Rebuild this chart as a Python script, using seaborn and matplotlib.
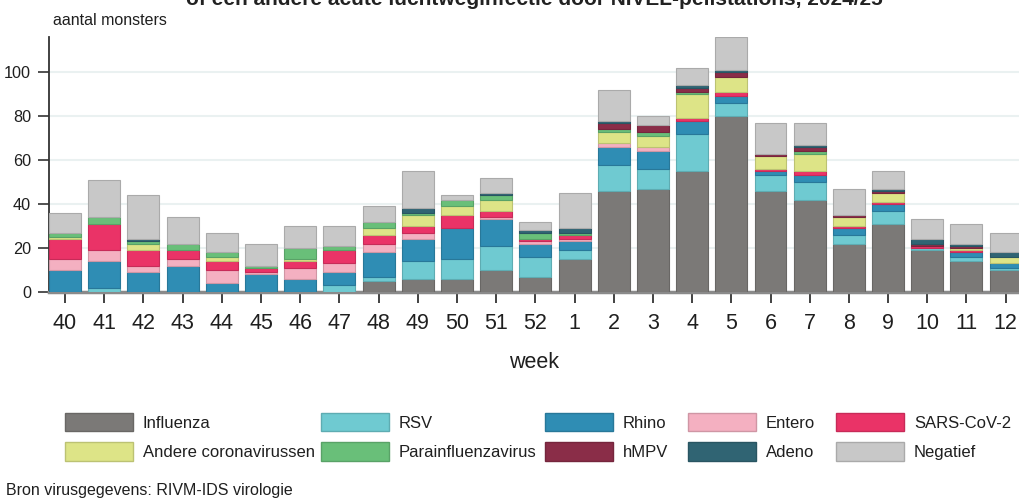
import numpy as np
import pandas as pd
import matplotlib
matplotlib.use("Agg")
import matplotlib.pyplot as plt
import matplotlib.colors as mcolors
from matplotlib.patches import Patch
import seaborn as sns

# ---------------- data ----------------
weeks = ["40", "41", "42", "43", "44", "45", "46", "47", "48", "49", "50", "51", "52",
         "1", "2", "3", "4", "5", "6", "7", "8", "9", "10", "11", "12"]

influenza = [0, 0, 0, 0, 0, 0, 0, 0, 5, 6, 6, 10, 7, 15, 46, 47, 55, 80, 46, 42, 22, 31, 19, 14, 10]
rsv       = [0, 2, 0, 0, 0, 0, 0, 3, 2, 8, 9, 11, 9, 4, 12, 9, 17, 6, 7, 8, 4, 6, 1, 2, 1]
rhino     = [10, 12, 9, 12, 4, 8, 6, 6, 11, 10, 14, 12, 6, 4, 8, 8, 6, 3, 2, 3, 3, 3, 0, 2, 2]
entero    = [5, 5, 3, 3, 6, 1, 5, 4, 4, 3, 0, 1, 1, 1, 2, 2, 0, 0, 0, 0, 0, 0, 0, 0, 0]
sars      = [9, 12, 7, 4, 4, 2, 3, 6, 4, 3, 6, 3, 1, 2, 0, 0, 1, 2, 1, 2, 1, 1, 1, 1, 0]
andere    = [1, 0, 3, 0, 2, 0, 1, 0, 3, 5, 4, 5, 0, 0, 5, 5, 11, 7, 6, 8, 4, 4, 0, 1, 3]
para      = [2, 3, 1, 3, 2, 1, 5, 2, 3, 1, 3, 2, 3, 1, 1, 2, 1, 0, 0, 1, 0, 0, 0, 0, 0]
hmpv      = [0, 0, 0, 0, 0, 0, 0, 0, 0, 0, 0, 0, 0, 0, 3, 3, 2, 2, 1, 2, 1, 1, 1, 1, 0]
adeno     = [0, 0, 1, 0, 0, 0, 0, 0, 0, 2, 0, 1, 1, 2, 1, 0, 1, 1, 0, 1, 0, 1, 2, 1, 2]
negatief  = [9, 17, 20, 12, 9, 10, 10, 9, 7, 17, 2, 7, 4, 16, 14, 4, 8, 15, 14, 10, 12, 8, 9, 9, 9]

series_names = ["Influenza", "RSV", "Rhino", "Entero", "SARS-CoV-2",
                "Andere coronavirussen", "Parainfluenzavirus", "hMPV", "Adeno", "Negatief"]
series_values = [influenza, rsv, rhino, entero, sars, andere, para, hmpv, adeno, negatief]
series_colors = ["#7b7977", "#6fcad1", "#2f8db4", "#f4b0c1", "#ea3367",
                 "#dde487", "#69bf79", "#8a2d48", "#306473", "#c8c8c8"]

title_text = "of een andere acute luchtweginfectie door NIVEL-peilstations, 2024/25"
ylabel_text = "aantal monsters"
xlabel_text = "week"
source_text = "Bron virusgegevens: RIVM-IDS virologie"


def darker(c, f=0.85):
    r, g, b = mcolors.to_rgb(c)
    return (r * f, g * f, b * f)


# ---------------- figure ----------------
sns.set_theme(style="white")
plt.rcParams["font.family"] = ["Liberation Sans", "DejaVu Sans"]

W, H = 1019, 500
fig = plt.figure(figsize=(W / 100, H / 100), dpi=100)
ax = fig.add_axes([49 / W, 1 - 292 / H, 970 / W, 255 / H])

bottom = np.zeros(len(weeks))
for name, vals, col in zip(series_names, series_values, series_colors):
    df = pd.DataFrame({"week": weeks, "n": vals})
    sns.barplot(data=df, x="week", y="n", order=weeks, color=col, saturation=1,
                width=0.816, bottom=bottom.copy(), errorbar=None, ax=ax,
                edgecolor=darker(col), linewidth=0.8, zorder=3)
    bottom += np.array(vals, dtype=float)

for p in ax.patches:
    if p.get_height() == 0:
        p.set_linewidth(0)

ax.set_xlim(-0.408, 24.34)
ax.set_ylim(0, 116)
ax.set_yticks([0, 20, 40, 60, 80, 100])
ax.yaxis.grid(True, color="#eaf1f1", linewidth=1.5, zorder=0)
ax.xaxis.grid(False)
ax.set_axisbelow(True)

for s in ["top", "right"]:
    ax.spines[s].set_visible(False)
ax.spines["left"].set_color("#333333")
ax.spines["left"].set_linewidth(1.3)
ax.spines["bottom"].set_color("#8a8a8a")
ax.spines["bottom"].set_linewidth(2.5)

ax.tick_params(axis="y", length=8, width=1.2, color="#333333", pad=4.8,
               labelsize=11.7, labelcolor="#1f1f1f", left=True)
ax.tick_params(axis="x", length=8, width=1.3, color="#333333", pad=7,
               labelsize=15.5, labelcolor="#1f1f1f", bottom=True)

ax.set_ylabel("")
ax.set_xlabel(xlabel_text, fontsize=15.5, color="#1f1f1f")
ax.xaxis.set_label_coords(0.5, (292 - 362) / 255)
ax.xaxis.label.set_va("center")

fig.text(534 / W, 1 - 5 / H, title_text, ha="center", va="baseline",
         fontsize=15, fontweight="bold", color="#222222")
fig.text(53 / W, 1 - 25 / H, ylabel_text, ha="left", va="baseline",
         fontsize=11.5, color="#1f1f1f")
fig.text(6 / W, 1 - 490 / H, source_text, ha="left", va="center",
         fontsize=11.5, color="#1f1f1f")

# legend: 5 columns x 2 rows
col_x = [65, 321, 545, 688, 836]
fs = 12
fs_px = fs * 100 / 72
for j in range(5):
    idx = [j, j + 5]
    handles = [Patch(facecolor=series_colors[i], edgecolor=darker(series_colors[i]),
                     linewidth=1.0) for i in idx]
    labels = [series_names[i] for i in idx]
    fig.legend(handles, labels, loc="upper left",
               bbox_to_anchor=(col_x[j] / W, 1 - 413 / H),
               frameon=False, borderpad=0, borderaxespad=0,
               handlelength=68 / fs_px, handleheight=22 / fs_px,
               labelspacing=11 / fs_px, handletextpad=10 / fs_px,
               fontsize=fs, labelcolor="#1f1f1f")

fig.savefig("out.png", dpi=100)
